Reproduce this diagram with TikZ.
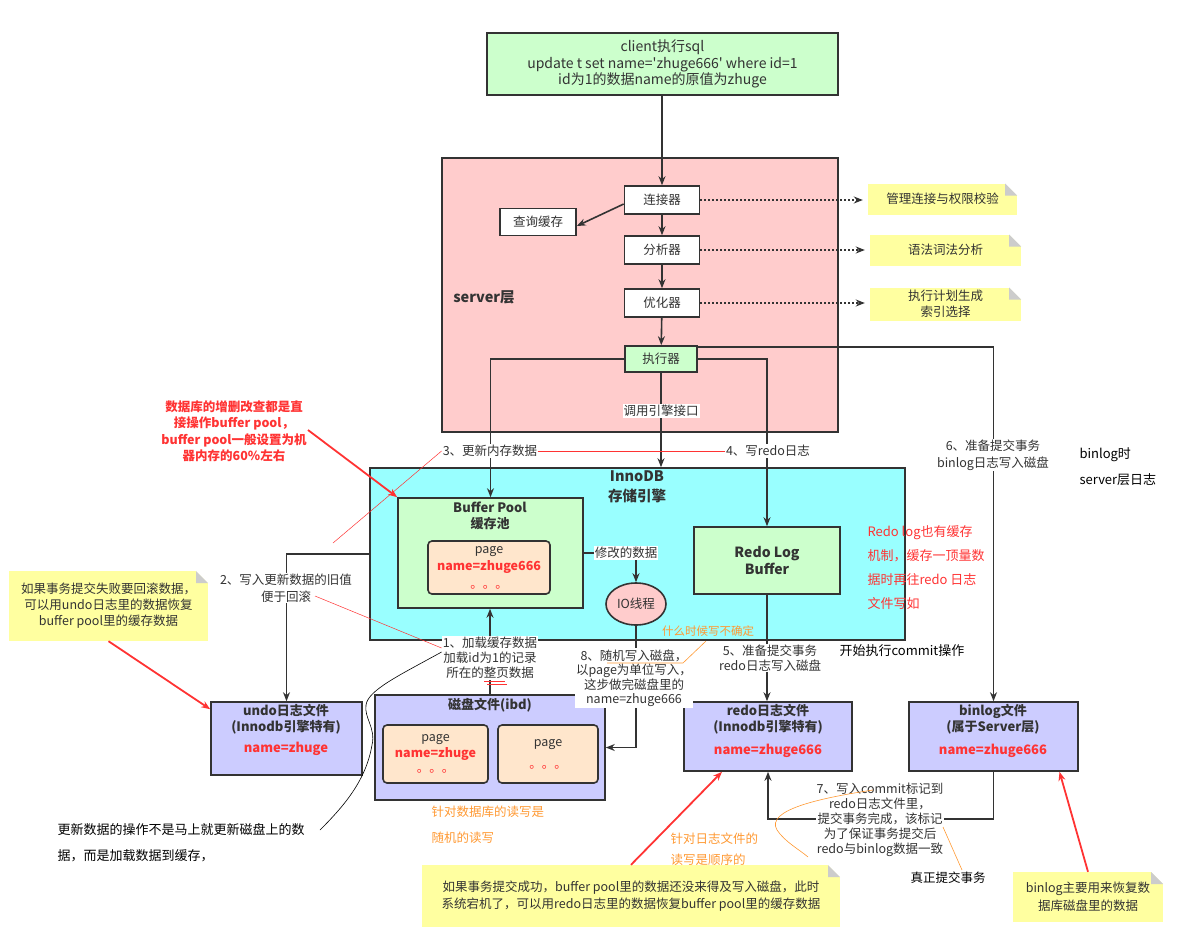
\documentclass[tikz,border=0pt]{standalone}
\usepackage{fontspec}
\setmainfont{Noto Sans CJK SC}
\usepackage{tikz}
\usetikzlibrary{arrows.meta, positioning, calc, shapes.geometric}
\definecolor{clientgreen}{RGB}{204,255,204}
\definecolor{serverpink}{RGB}{255,204,204}
\definecolor{innocyan}{RGB}{153,255,255}
\definecolor{fileblue}{RGB}{204,204,255}
\definecolor{pagepeach}{RGB}{255,230,204}
\definecolor{noteyellow}{RGB}{255,255,160}
\definecolor{notefold}{RGB}{204,204,204}
\definecolor{linegray}{RGB}{51,51,51}
\definecolor{textgray}{RGB}{51,51,51}
\definecolor{tipred}{RGB}{255,51,51}
\definecolor{tiporange}{RGB}{255,153,51}
\newcommand{\fsz}[2]{\fontsize{#1}{#2}\selectfont}

\tikzset{
  panel/.style={draw=linegray, line width=1.6pt},
  procbox/.style={panel, fill=white, minimum width=75pt, minimum height=28pt, inner sep=0pt},
  filebox/.style={panel, fill=fileblue, inner sep=0pt},
  pagebox/.style={panel, rounded corners=4pt, fill=pagepeach, inner sep=0pt, align=center},
  note/.style={fill=noteyellow, align=center, inner sep=0pt,
    path picture={
      \fill[white] ([xshift=-12pt]path picture bounding box.north east) -- (path picture bounding box.north east) -- ([yshift=-12pt]path picture bounding box.north east) -- cycle;
      \fill[notefold] ([xshift=-12pt]path picture bounding box.north east) -- ([xshift=-12pt,yshift=-12pt]path picture bounding box.north east) -- ([yshift=-12pt]path picture bounding box.north east) -- cycle;}},
  flow/.style={->, draw=linegray, line width=1.6pt},
  dotflow/.style={->, draw=linegray, line width=1.6pt, dash pattern=on 1.5pt off 2.5pt},
  lbl/.style={fill=white, inner sep=1pt, align=center},
  boldtitle/.style={font=\bfseries\fsz{13}{16}, align=center},
  redval/.style={font=\bfseries\fsz{13}{16}, text=tipred},
  redtip/.style={->, draw=tipred, line width=1.8pt},
  thinred/.style={draw=tipred, line width=0.5pt},
  thinorange/.style={draw=tiporange, line width=0.6pt}
}

\begin{document}
\begin{tikzpicture}[x=1pt, y=-1pt, >={Stealth[length=9pt, width=7pt]}, every node/.append style={font=\fsz{12.5}{15}, text=textgray}]
  \useasboundingbox (0,0) rectangle (1178,935);

  \node[panel, fill=clientgreen, minimum width=351pt, minimum height=62pt, align=center, font=\fsz{14}{16.5}] (client) at (662.5,64) {client执行sql\\update t set name=\textquotesingle zhuge666\textquotesingle\ where id=1\\id为1的数据name的原值为zhuge};

  \node[panel, fill=serverpink, minimum width=396pt, minimum height=274pt] (server) at (640,295) {};
  \node[font=\bfseries\fsz{14.5}{17}] (serverlbl) at (484,297) {server层};
  \node[procbox] (conn) at (662,200) {连接器};
  \node[procbox, minimum width=76pt, minimum height=27pt] (qcache) at (538,222) {查询缓存};
  \node[procbox] (parser) at (662,250) {分析器};
  \node[procbox] (optim) at (662,303) {优化器};
  \node[procbox, fill=clientgreen, minimum width=72pt, minimum height=26pt] (exec) at (661,359) {执行器};

  \node[note, minimum width=149pt, minimum height=31pt] (connnote) at (942.5,199) {管理连接与权限校验};
  \node[note, minimum width=151pt, minimum height=31pt] (parsenote) at (945.5,250) {语法词法分析};
  \node[note, minimum width=151pt, minimum height=33pt, font=\fsz{12.5}{16}] (optnote) at (945.5,304) {执行计划生成\\索引选择};

  \node[panel, fill=innocyan, minimum width=535pt, minimum height=172pt] (inno) at (637.5,554) {};
  \node[boldtitle, font=\bfseries\fsz{14.5}{20}] (innolbl) at (637,487) {InnoDB\\存储引擎};
  \node[panel, fill=clientgreen, minimum width=185pt, minimum height=110pt] (bpool) at (490.5,553) {};
  \node[boldtitle] (bpoollbl) at (490,516) {Buffer Pool\\缓存池};
  \node[pagebox, minimum width=122pt, minimum height=53pt, font=\fsz{12.5}{17.5}] (bpage) at (489,567.5) {page\\\textcolor{tipred}{\bfseries name=zhuge666}\\\textcolor{tipred}{。。。}};
  \node[panel, fill=clientgreen, minimum width=146pt, minimum height=67pt, font=\bfseries\fsz{14}{17}, align=center] (rlbuf) at (767,560.5) {Redo Log\\Buffer};
  \node[ellipse, panel, fill=serverpink, minimum width=60pt, minimum height=42pt, inner sep=0pt] (iothr) at (636,604) {IO线程};

  \node[filebox, minimum width=151pt, minimum height=73pt] (undo) at (286.5,738.5) {};
  \node[boldtitle] (undolbl) at (286,719) {undo日志文件\\(Innodb引擎特有)};
  \node[redval] (undoval) at (286,749) {name=zhuge};
  \node[filebox, minimum width=230pt, minimum height=105pt] (disk) at (490,747.5) {};
  \node[boldtitle] (disklbl) at (490,705) {磁盘文件(ibd)};
  \node[pagebox, minimum width=105pt, minimum height=58pt, font=\fsz{12.5}{15.5}] (dpage1) at (435.5,754) {page\\\textcolor{tipred}{\bfseries name=zhuge}\\\textcolor{tipred}{。。。}};
  \node[pagebox, minimum width=100pt, minimum height=58pt, font=\fsz{12.5}{22}] (dpage2) at (548,754) {page\\\textcolor{tipred}{。。。}};
  \node[filebox, minimum width=168pt, minimum height=69pt] (redo) at (768,736.5) {};
  \node[boldtitle] (redolbl) at (768,719) {redo日志文件\\(Innodb引擎特有)};
  \node[redval] (redoval) at (768,751) {name=zhuge666};
  \node[filebox, minimum width=169pt, minimum height=69pt] (binlog) at (993.5,736.5) {};
  \node[boldtitle] (binloglbl) at (993,719) {binlog文件\\(属于Server层)};
  \node[redval] (binlogval) at (993,751) {name=zhuge666};

  \node[note, minimum width=199pt, minimum height=70pt, font=\fsz{12.5}{16}] (undonote) at (108.5,606) {如果事务提交失败要回滚数据，\\可以用undo日志里的数据恢复\\buffer pool里的缓存数据};
  \node[note, minimum width=418pt, minimum height=62pt, font=\fsz{12.5}{17}] (redonote) at (631,896) {如果事务提交成功，buffer pool里的数据还没来得及写入磁盘，此时\\系统宕机了，可以用redo日志里的数据恢复buffer pool里的缓存数据};
  \node[note, minimum width=150pt, minimum height=50pt, font=\fsz{12.5}{18}] (binlognote) at (1088,897) {binlog主要用来恢复数\\据库磁盘里的数据};

  \draw[flow] (client.south -| conn.north) -- (conn.north);
  \draw[flow] ([yshift=-4pt]conn.west) -- ([yshift=-4pt]qcache.east);
  \draw[flow] (conn) -- (parser);
  \draw[flow] (parser) -- (optim);
  \draw[flow] (optim) -- (exec);
  \draw[dotflow, shorten >=5pt] (conn.east) -- (conn.east -| connnote.west);
  \draw[dotflow, shorten >=5pt] (parser.east) -- (parser.east -| parsenote.west);
  \draw[dotflow, shorten >=5pt] (optim.east) -- (optim.east -| optnote.west);

  \draw[flow] (exec.west) -| (bpool.north);
  \draw[flow] (exec.south) -- (exec.south |- inno.north);
  \draw[flow] (exec.east) -| (rlbuf.north);
  \draw[flow] ([yshift=-1.5pt]exec.north east) -| (binlog.north);
  \draw[flow] (bpool.east) -| (iothr.north);
  \draw[flow] (iothr.south) |- (disk.east);
  \draw[flow] (rlbuf.south) -- (rlbuf.south |- redo.north);
  \draw[flow] (disk.north) -- (disk.north |- bpool.south);
  \draw[flow] (inno.west) -| (undo.north);
  \draw[flow] (binlog.south) -- ++(0,47) -| (redo.south);

  \node[lbl] (upd3) at (490,451) {3、更新内存数据};
  \node[lbl] (redo4) at (768,451) {4、写redo日志};
  \node[lbl] (callapi) at (661,411) {调用引擎接口};
  \node[lbl, font=\fsz{12.5}{17}] (bin6) at (993,455) {6、准备提交事务\\binlog日志写入磁盘};
  \node[lbl] (moddata) at (626,553) {修改的数据};
  \node[lbl, font=\fsz{12.5}{14.5}] (rand8) at (634,678) {8、随机写入磁盘，\\以page为单位写入，\\这步做完磁盘里的\\name=zhuge666};
  \node[lbl, font=\fsz{12.5}{15}] (redo5) at (770,658) {5、准备提交事务\\redo日志写入磁盘};
  \node[lbl, font=\fsz{12.5}{15}] (load1) at (490,658) {1、加载缓存数据\\加载id为1的记录\\所在的整页数据};
  \node[lbl, font=\fsz{12.5}{17}] (old2) at (286,588) {2、写入更新数据的旧值\\便于回滚};
  \node[lbl, font=\fsz{12.5}{15}] (commit7) at (880,820) {7、写入commit标记到\\redo日志文件里，\\提交事务完成，该标记\\为了保证事务提交后\\redo与binlog数据一致};

  \node[anchor=west, text=black, font=\fsz{13}{16}] (binlogtime) at (1076,455) {binlog时};
  \node[anchor=west, text=black, font=\fsz{13}{16}] (serverlog) at (1076,480) {server层日志};
  \node[anchor=west, align=left, text=tipred, font=\fsz{13}{24}] (redocache) at (864,568) {Redo log也有缓存\\机制，缓存一顶量数\\据时再往redo 日志\\文件写如};
  \node[anchor=west, text=black, font=\fsz{13}{16}] (startcommit) at (836,651) {开始执行commit操作};
  \node[text=tiporange, font=\fsz{11.5}{14}] (uncertain) at (708,631) {什么时候写不确定};
  \node[anchor=west, align=left, text=tiporange, font=\fsz{12.5}{26}] (randrw) at (428,825) {针对数据库的读写是\\随机的读写};
  \node[anchor=west, align=left, text=tiporange, font=\fsz{12.5}{21}] (seqrw) at (667,849) {针对日志文件的\\读写是顺序的};
  \node[anchor=west, align=left, text=black, font=\fsz{13}{26}] (lazyupd) at (54,843) {更新数据的操作不是马上就更新磁盘上的数\\据，而是加载数据到缓存，};
  \node[text=black, font=\fsz{12.5}{15}] (realcommit) at (948,878) {真正提交事务};
  \node[align=center, text=tipred, font=\bfseries\fsz{12.5}{16.5}] (crudnote) at (234,431) {数据库的增删改查都是直\\接操作buffer pool，\\buffer pool一般设置为机\\器内存的60\%左右};

  \coordinate (crudtail) at (308,430);
  \draw[redtip] (crudtail) -- (bpool.north west);
  \draw[redtip] (undonote.south) -- ([yshift=-8pt]undo.north west);
  \draw[redtip] (redonote.north) -- ([xshift=-46pt]redo.south);
  \draw[redtip] (binlognote.north) -- ([xshift=66pt]binlog.south);

  \coordinate (red3end) at (333,543);
  \coordinate (red2start) at (315,596);
  \draw[thinred] (upd3.west) -- (red3end);
  \draw[thinred] (upd3.east) -- (redo4.west);
  \draw[thinred] (red2start) -- ([yshift=10pt]load1.west);
  \draw[thinred] (484,681) -- (505,681) (487,684) -- (507,684);

  \draw[thinorange] (607,663) -- (683,663) -- (706,641);
  \draw[thinorange] (873,790) .. controls (820,798) and (765,810) .. (777,830) .. controls (785,842) and (800,850) .. (808,857);
  \draw[thinorange] (943,827) -- (962,870);

  \coordinate (lazyend) at (320,830);
  \draw[black, line width=0.6pt] ([yshift=6pt]load1.west) .. controls (400,675) and (368,690) .. (366,705) .. controls (364,718) and (376,728) .. (372,745) .. controls (366,780) and (345,805) .. (lazyend);
\end{tikzpicture}
\end{document}
